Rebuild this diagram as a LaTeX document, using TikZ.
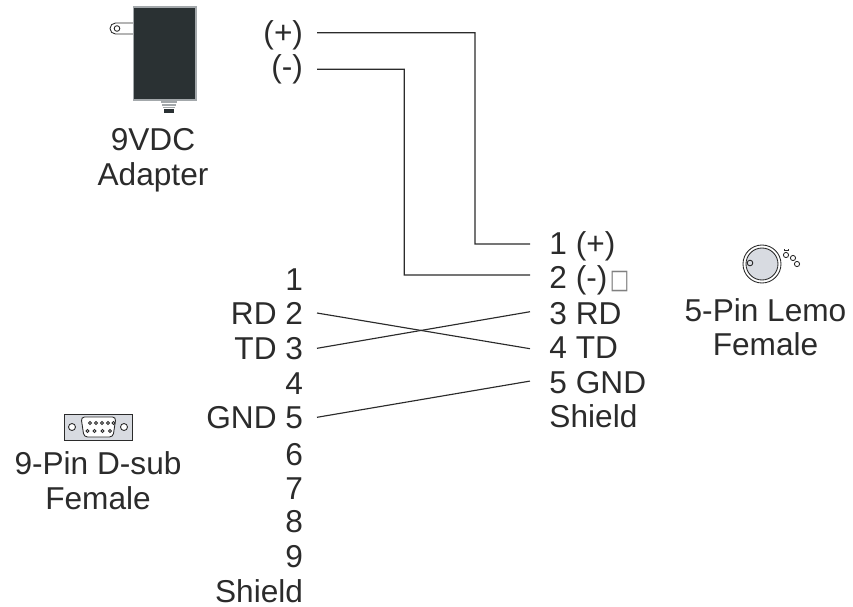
\documentclass[tikz,border=0pt]{standalone}
\usepackage{fontspec}
\setmainfont{Liberation Sans}
\newfontfamily\boxfont{DejaVu Sans}
\usepackage{xcolor}
\definecolor{bodycol}{HTML}{2A3133}
\definecolor{edgecol}{HTML}{A3A8AB}
\definecolor{platecol}{HTML}{D8DBE1}
\definecolor{inkcol}{HTML}{2B2B2B}
\definecolor{glyphcol}{HTML}{808080}
\tikzset{pinleft/.style = {anchor=east, inner xsep=0.28cm, inner ysep=0pt, outer sep=0pt,
text height=0.46cm, text depth=0.02cm, font=\fontsize{18}{18}\selectfont, text=inkcol}}
\tikzset{pinright/.style = {anchor=west, inner xsep=0.39cm, inner ysep=0pt, outer sep=0pt,
text height=0.46cm, text depth=0.02cm, font=\fontsize{18}{18}\selectfont, text=inkcol}}
\tikzset{caption/.style = {align=center, anchor=base, inner sep=0pt, font=\fontsize{18}{19.6}\selectfont, text=inkcol}}
\tikzset{wire/.style = {draw=inkcol, line width=0.65pt}}
\tikzset{part/.style = {draw=inkcol, line width=0.5pt}}

\begin{document}
\begin{tikzpicture}[x=0.02cm,y=-0.02cm]
                \useasboundingbox (0,0) rectangle (853,606);

                % adapter
                \draw[part,fill=white] (133,23) -- (115.5,23) arc (-90:-270:5.5) -- (133,34);
                \draw[part] (117,28.5) circle (2.8);
                \draw[draw=edgecol,fill=bodycol,line width=0.8pt] (133.5,7) rectangle (196,100);
                \draw[draw=edgecol,line width=1pt] (161,102) -- (177,102);
                \draw[draw=edgecol,line width=1pt] (162,105) -- (176,105);
                \draw[draw=edgecol,line width=1pt] (163,107.5) -- (175,107.5);
                \fill[bodycol] (164,109) rectangle (174,113);
                \node[caption] (adapter) at (153,185) {9VDC\\Adapter};

                % d-sub
                \draw[part,fill=platecol] (64,414) rectangle (132,440);
                \draw[part,fill=white] (72,427) circle (3.5);
                \draw[part,fill=white] (124,427) circle (3.5);
                \draw[part,fill=white,rounded corners=2pt] (81,417) -- (116,417) -- (113,437) -- (84,437) -- cycle;
                \foreach \x in {90,96,102,108,113.5} \draw[part,fill=white] (\x,423) circle (1.4);
                \foreach \x in {87.5,94.5,102.5,110} \draw[part,fill=white] (\x,431) circle (1.4);
                \node[caption] (dsub) at (98,509.3) {9-Pin D-sub\\Female};

                % lemo
                \draw[draw=inkcol,fill=platecol,line width=0.5pt] (762,264) circle (16);
                \draw[draw=inkcol,line width=0.5pt] (762,264) circle (19);
                \draw[part] (750,263) circle (2.8);
                \draw[part] (786,255) circle (2.6);
                \draw[part] (793,258) circle (2.6);
                \draw[part] (797,264) circle (2.6);
                \draw[part] (784,249) -- (784,251) (788,249) -- (788,251) (784,250) -- (788,250);
                \node[caption] (lemo) at (765.5,355.7) {5-Pin Lemo\\Female};

                % adapter leads
                \node[pinleft] (P) at (317,32.7) {(+)};
                \node[pinleft] (M) at (317,66.5) {(-)};

                % d-sub pins
                \node[pinleft] (D1) at (317,279.7) {1};
                \node[pinleft] (D2) at (317,313) {RD 2};
                \node[pinleft] (D3) at (317,348.3) {TD 3};
                \node[pinleft] (D4) at (317,383.3) {4};
                \node[pinleft] (D5) at (317,417.3) {GND 5};
                \node[pinleft] (D6) at (317,454) {6};
                \node[pinleft] (D7) at (317,488.3) {7};
                \node[pinleft] (D8) at (317,521.7) {8};
                \node[pinleft] (D9) at (317,556) {9};
                \node[pinleft] (DS) at (317,591.7) {Shield};

                % lemo pins
                \node[pinright] (L1) at (530,243) {1 (+)};
                \node[pinright] (L2) at (530,277.3) {2 (-)\kern1.4pt{\color{glyphcol}\scalebox{0.65}[0.85]{\boxfont □}}};
                \node[pinright] (L3) at (530,313.3) {3 RD};
                \node[pinright] (L4) at (530,347.3) {4 TD};
                \node[pinright] (L5) at (530,382.3) {5 GND};
                \node[pinright] (LS) at (530,416.3) {Shield};

                \draw[wire] (P.east) -| (475,244) -- ([yshift=-0.6pt]L1.west);
                \draw[wire] ([yshift=-1.6pt]M.east) -| (404.3,275) -- ([yshift=1.3pt]L2.west);

                \draw[wire] (D2.east) to ([yshift=-0.8pt]L4.west);
                \draw[wire] (D3.east) to ([yshift=0.9pt]L3.west);
                \draw[wire] (D5.east) to ([yshift=0.7pt]L5.west);
            \end{tikzpicture}
\end{document}
